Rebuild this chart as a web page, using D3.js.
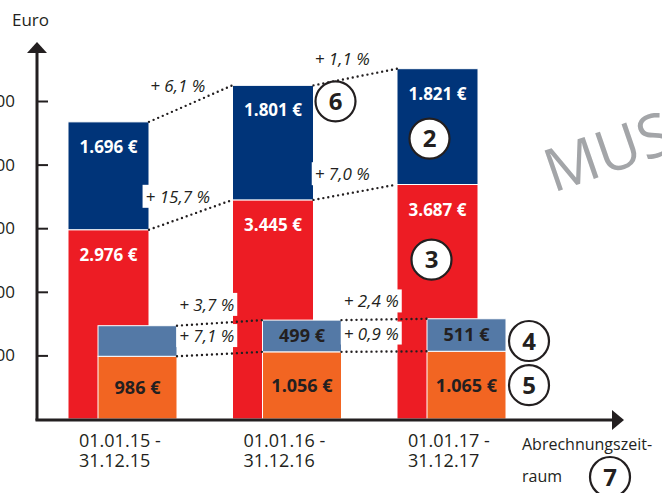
<!DOCTYPE html>
<html>
<head>
<meta charset="utf-8">
<script src="https://cdn.jsdelivr.net/npm/d3@7"></script>
<style>
  body { margin: 0; background: #fff; }
  text { font-family: "Open Sans", sans-serif; }
</style>
</head>
<body>
<div id="chart"></div>
<script>
// data
const periodStart = ["01.01.15 -", "01.01.16 -", "01.01.17 -"];
const periodEnd = ["31.12.15", "31.12.16", "31.12.17"];
const redValues = [2976, 3445, 3687];
const navyValues = [1696, 1801, 1821];
const orangeValues = [986, 1056, 1065];
const blueValues = [481, 499, 511];
const blueShown = [false, true, true];
const growthNavy = [6.1, 1.1];
const growthRed = [15.7, 7.0];
const growthBlue = [3.7, 2.4];
const growthOrange = [7.1, 0.9];
const yTicks = [1000, 2000, 3000, 4000, 5000];

const W = 662, H = 493;
const dark = "#231f20";
const colors = { red: "#ed1c24", navy: "#003479", orange: "#f26522", blue: "#5479a6" };

const loc = d3.formatLocale({ decimal: ",", thousands: ".", grouping: [3], currency: ["", " €"] });
const fmtEuro = v => loc.format(",")(v) + " €";
const fmtPct = v => "+ " + loc.format(".1f")(v) + " %";

const rows = periodStart.map((p, i) => ({
    period: p, red: redValues[i], navy: navyValues[i],
    orange: orangeValues[i], blue: blueValues[i]
}));

const svg = d3.select("#chart").append("svg")
    .attr("width", W)
    .attr("height", H);

const x0 = 37, y0 = 419;
const bigW = 81, frontW = 79, frontOff = 30;

const x = d3.scaleBand()
    .domain(periodStart)
    .range([68, 68 + 3 * 164.5]);

const y = d3.scaleLinear()
    .domain([0, 5000])
    .range([y0, 101]);

const bigStack = d3.stack().keys(["red", "navy"])(rows);
const frontStack = d3.stack().keys(["orange", "blue"])(rows);

// big bars
svg.append("g").selectAll("g")
    .data(bigStack)
    .join("g")
    .attr("fill", s => colors[s.key])
    .selectAll("rect")
    .data(s => s)
    .join("rect")
    .attr("x", d => x(d.data.period))
    .attr("y", d => y(d[1]))
    .attr("width", bigW)
    .attr("height", d => y(d[0]) - y(d[1]))
    .attr("stroke", "#fff")
    .attr("stroke-width", 1);

// front bars
svg.append("g").selectAll("g")
    .data(frontStack)
    .join("g")
    .attr("fill", s => colors[s.key])
    .selectAll("rect")
    .data(s => s)
    .join("rect")
    .attr("x", d => x(d.data.period) + frontOff)
    .attr("y", d => y(d[1]))
    .attr("width", frontW)
    .attr("height", d => y(d[0]) - y(d[1]))
    .attr("stroke", "#fff")
    .attr("stroke-width", 1);

// connectors between bar tops
const boxLayer = svg.append("g");
const lineLayer = svg.append("g");
const pctLayer = svg.append("g");

function connectors(stack, key, left, width, growth) {
    const s = stack.find(l => l.key === key);
    d3.range(s.length - 1).forEach(i => {
        const x1 = x(s[i].data.period) + left + width;
        const y1 = y(s[i][1]);
        const x2 = x(s[i + 1].data.period) + left;
        const y2 = y(s[i + 1][1]);
        lineLayer.append("line")
            .attr("x1", x1).attr("y1", y1)
            .attr("x2", x2).attr("y2", y2)
            .attr("stroke", dark)
            .attr("stroke-width", 2.4)
            .attr("stroke-linecap", "round")
            .attr("stroke-dasharray", "0 5");
        const t = pctLayer.append("text")
            .attr("x", (x1 + x2) / 2 - 13)
            .attr("y", (y1 + y2) / 2 - 12)
            .attr("text-anchor", "middle")
            .attr("font-size", 17)
            .attr("font-style", "italic")
            .attr("fill", dark)
            .text(fmtPct(growth[i]));
        const b = t.node().getBBox();
        boxLayer.append("rect")
            .attr("x", b.x - 3).attr("y", b.y)
            .attr("width", b.width + 6).attr("height", b.height)
            .attr("fill", "#fff");
    });
}
connectors(bigStack, "navy", 0, bigW, growthNavy);
connectors(bigStack, "red", 0, bigW, growthRed);
connectors(frontStack, "blue", frontOff, frontW, growthBlue);
connectors(frontStack, "orange", frontOff, frontW, growthOrange);

// value labels
bigStack.forEach(s => {
    svg.append("g").selectAll("text")
        .data(s)
        .join("text")
        .attr("x", d => x(d.data.period) + bigW / 2)
        .attr("y", d => y(d[1]) + 31)
        .attr("text-anchor", "middle")
        .attr("font-size", 17)
        .attr("font-weight", 700)
        .attr("fill", "#fff")
        .text(d => fmtEuro(d.data[s.key]));
});

frontStack.forEach(s => {
    svg.append("g").selectAll("text")
        .data(s.filter((d, i) => s.key !== "blue" || blueShown[i]))
        .join("text")
        .attr("x", d => x(d.data.period) + frontOff + frontW / 2)
        .attr("y", d => (y(d[0]) + y(d[1])) / 2)
        .attr("dy", "0.36em")
        .attr("text-anchor", "middle")
        .attr("font-size", 18)
        .attr("font-weight", 700)
        .attr("fill", dark)
        .text(d => fmtEuro(d.data[s.key]));
});

// axes
const yAxis = svg.append("g")
    .attr("transform", `translate(${x0},0)`)
    .call(d3.axisLeft(y).tickValues(yTicks).tickSize(-11).tickPadding(22).tickFormat(loc.format(",")));
yAxis.select(".domain").remove();
yAxis.selectAll("line").attr("stroke", dark).attr("stroke-width", 2);
yAxis.selectAll("text")
    .attr("font-size", 17)
    .attr("fill", dark)
    .attr("font-family", "'Open Sans', sans-serif");

svg.append("line")
    .attr("x1", x0).attr("y1", y0 + 1.5)
    .attr("x2", x0).attr("y2", 52)
    .attr("stroke", dark).attr("stroke-width", 3);
svg.append("path")
    .attr("d", `M${x0 - 10},53 L${x0},42 L${x0 + 10},53 Z`)
    .attr("fill", dark);
svg.append("line")
    .attr("x1", x0 - 1.5).attr("y1", y0 + 1)
    .attr("x2", 613).attr("y2", y0 + 1)
    .attr("stroke", dark).attr("stroke-width", 3);
svg.append("path")
    .attr("d", `M612,${y0 - 9} L624,${y0 + 1} L612,${y0 + 11} Z`)
    .attr("fill", dark);

svg.append("text")
    .attr("x", 12).attr("y", 26)
    .attr("font-size", 17)
    .attr("fill", dark)
    .text("Euro");

const xl = svg.append("g").selectAll("text")
    .data(rows)
    .join("text")
    .attr("font-size", 18)
    .attr("fill", dark);
xl.append("tspan")
    .attr("x", d => x(d.period) + 11)
    .attr("y", 447)
    .text(d => d.period);
xl.append("tspan")
    .attr("x", d => x(d.period) + 11)
    .attr("y", 467)
    .text((d, i) => periodEnd[i]);

svg.append("text")
    .attr("x", 522).attr("y", 450)
    .attr("font-size", 16)
    .attr("fill", dark)
    .text("Abrechnungszeit-");
svg.append("text")
    .attr("x", 522).attr("y", 482)
    .attr("font-size", 16)
    .attr("fill", dark)
    .text("raum");

// watermark
svg.append("text")
    .attr("transform", "translate(553,193) rotate(-19)")
    .attr("font-size", 60)
    .attr("font-weight", 400)
    .attr("fill", "#a3a5a8")
    .text("MUSTER");

// circled markers
const last = rows.length - 1;
const p3 = x(rows[last].period);
const markers = [
    { n: "6", cx: x(rows[1].period) + bigW + 22, cy: y(redValues[1] + navyValues[1]) + 16 },
    { n: "2", cx: p3 + bigW / 2 - 8, cy: (y(redValues[last]) + y(redValues[last] + navyValues[last])) / 2 + 12 },
    { n: "3", cx: p3 + bigW / 2 - 6, cy: (y(redValues[last]) + y(orangeValues[last] + blueValues[last])) / 2 + 8 },
    { n: "4", cx: p3 + frontOff + frontW + 23, cy: (y(orangeValues[last]) + y(orangeValues[last] + blueValues[last])) / 2 + 6 },
    { n: "5", cx: p3 + frontOff + frontW + 23, cy: (y(0) + y(orangeValues[last])) / 2 },
    { n: "7", cx: 610, cy: y0 + 58 }
];
const mk = svg.append("g").selectAll("g")
    .data(markers)
    .join("g")
    .attr("transform", d => `translate(${d.cx},${d.cy})`);
mk.append("circle")
    .attr("r", 20)
    .attr("fill", "#fff")
    .attr("stroke", dark)
    .attr("stroke-width", 2.2);
mk.append("text")
    .attr("text-anchor", "middle")
    .attr("dy", "0.36em")
    .attr("font-size", 24)
    .attr("font-weight", 700)
    .attr("fill", dark)
    .text(d => d.n);
</script>
</body>
</html>
